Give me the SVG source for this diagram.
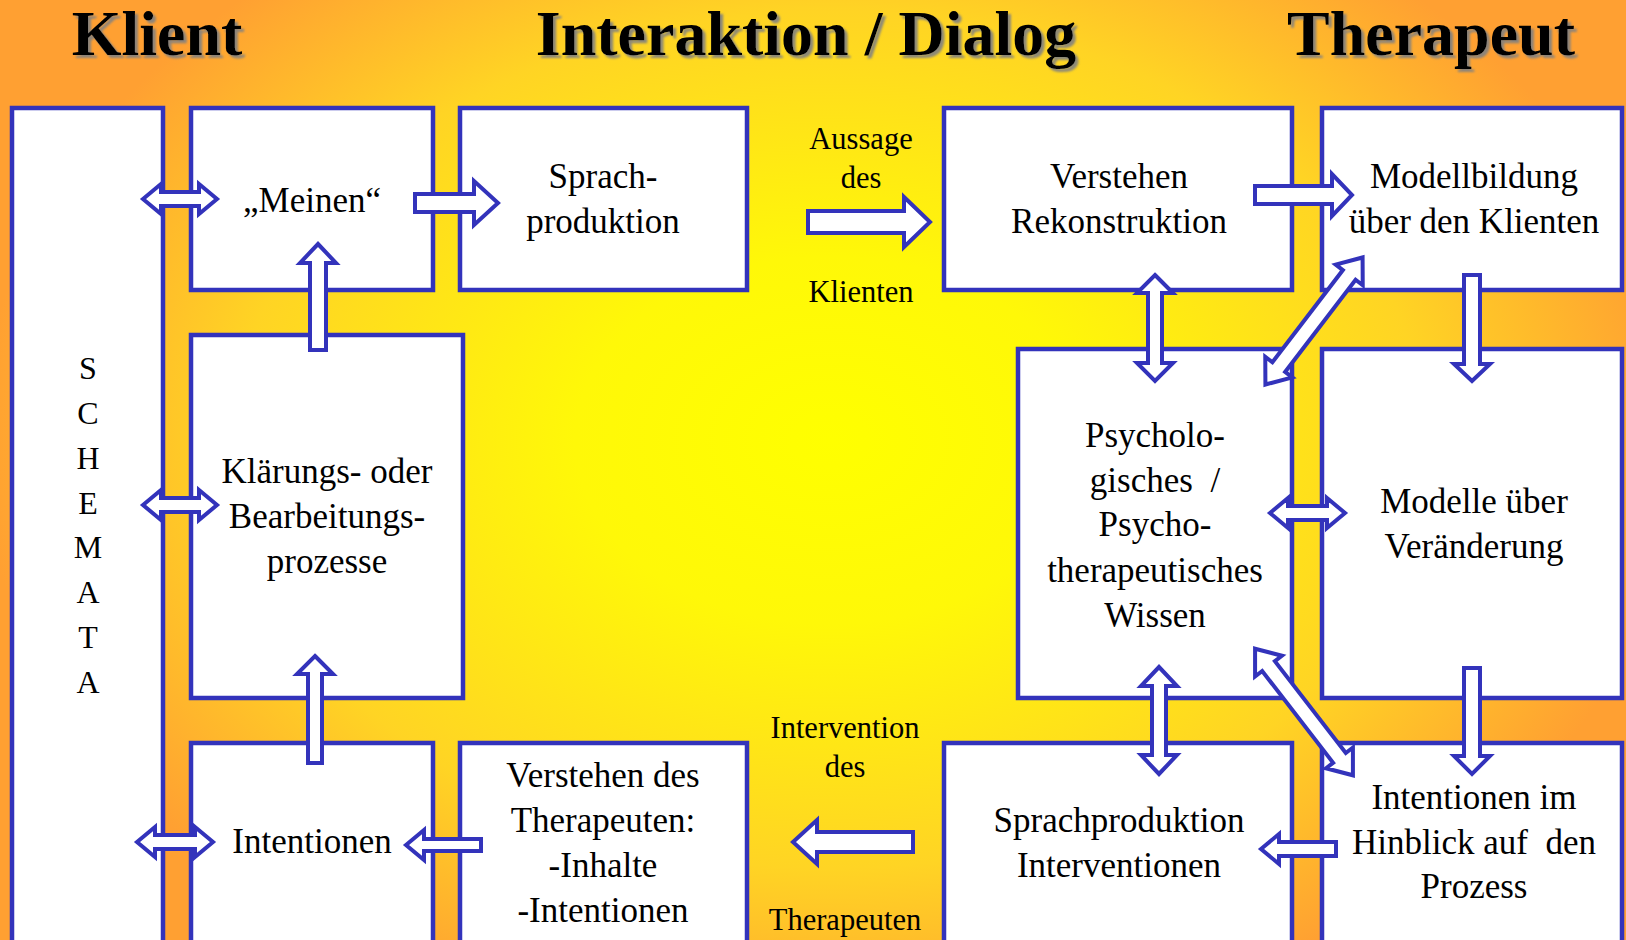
<svg xmlns="http://www.w3.org/2000/svg" width="1626" height="940" viewBox="0 0 1626 940">
<style>
.box{fill:#fff;stroke:#3333BB;stroke-width:4.5}
.arr{fill:#fff;stroke:#3333BB;stroke-width:4;stroke-linejoin:miter}
.t{font-family:"Liberation Serif","Times New Roman",serif;font-size:35px;fill:#000;text-anchor:middle}
.lab{font-family:"Liberation Serif","Times New Roman",serif;font-size:30.5px;fill:#000;text-anchor:middle}
.title{font-family:"Liberation Serif","Times New Roman",serif;font-size:64px;font-weight:bold;fill:#000;text-anchor:middle}
.sch{font-family:"Liberation Serif","Times New Roman",serif;font-size:32px;fill:#000;text-anchor:middle}
</style>
<defs>
<radialGradient id="bg" gradientUnits="userSpaceOnUse" cx="830" cy="440" r="850" gradientTransform="translate(830 440) scale(1 0.72) translate(-830 -440)">
<stop offset="0" stop-color="#FFFF00"/>
<stop offset="0.3" stop-color="#FFF808"/>
<stop offset="0.7" stop-color="#FFD424"/>
<stop offset="1" stop-color="#FFA032"/>
</radialGradient>
<filter id="sh" x="-10%" y="-20%" width="130%" height="150%">
<feDropShadow dx="3" dy="3" stdDeviation="1" flood-color="#808080" flood-opacity="0.9"/>
</filter>
</defs>
<rect x="0" y="0" width="1626" height="940" fill="url(#bg)"/>
<g id="titles" filter="url(#sh)">
<text class="title" x="157" y="55">Klient</text>
<text class="title" x="806" y="55">Interaktion / Dialog</text>
<text class="title" x="1431" y="55">Therapeut</text>
</g>
<g id="schemata">
<rect class="box" x="12" y="108" width="151" height="850"/>
<text class="sch" x="88" y="379">S</text>
<text class="sch" x="88" y="424">C</text>
<text class="sch" x="88" y="469">H</text>
<text class="sch" x="88" y="514">E</text>
<text class="sch" x="88" y="558">M</text>
<text class="sch" x="88" y="603">A</text>
<text class="sch" x="88" y="648">T</text>
<text class="sch" x="88" y="693">A</text>
</g>
<g id="meinen">
<rect class="box" x="191" y="108" width="242" height="182"/>
<text class="t" x="312" y="212">„Meinen“</text>
</g>
<g id="sprachproduktion-klient">
<rect class="box" x="460" y="108" width="287" height="182"/>
<text class="t" x="603" y="188">Sprach-</text>
<text class="t" x="603" y="233">produktion</text>
</g>
<g id="klaerung">
<rect class="box" x="191" y="335" width="272" height="363"/>
<text class="t" x="327" y="483">Klärungs- oder</text>
<text class="t" x="327" y="528">Bearbeitungs-</text>
<text class="t" x="327" y="573">prozesse</text>
</g>
<g id="intentionen-klient">
<rect class="box" x="191" y="743" width="242" height="215"/>
<text class="t" x="312" y="853">Intentionen</text>
</g>
<g id="verstehen-therapeut">
<rect class="box" x="460" y="743" width="287" height="215"/>
<text class="t" x="603" y="787">Verstehen des</text>
<text class="t" x="603" y="832">Therapeuten:</text>
<text class="t" x="603" y="877">-Inhalte</text>
<text class="t" x="603" y="922">-Intentionen</text>
</g>
<g id="verstehen-rekonstruktion">
<rect class="box" x="944" y="108" width="348" height="182"/>
<text class="t" x="1119" y="188">Verstehen</text>
<text class="t" x="1119" y="233">Rekonstruktion</text>
</g>
<g id="modellbildung">
<rect class="box" x="1322" y="108" width="300" height="182"/>
<text class="t" x="1474" y="188">Modellbildung</text>
<text class="t" x="1474" y="233">über den Klienten</text>
</g>
<g id="wissen">
<rect class="box" x="1018" y="349" width="274" height="349"/>
<text class="t" x="1155" y="447">Psycholo-</text>
<text class="t" x="1155" y="492" xml:space="preserve">gisches  /</text>
<text class="t" x="1155" y="536">Psycho-</text>
<text class="t" x="1155" y="582">therapeutisches</text>
<text class="t" x="1155" y="627">Wissen</text>
</g>
<g id="modelle-veraenderung">
<rect class="box" x="1322" y="349" width="300" height="349"/>
<text class="t" x="1474" y="513">Modelle über</text>
<text class="t" x="1474" y="558">Veränderung</text>
</g>
<g id="sprachproduktion-interventionen">
<rect class="box" x="944" y="743" width="348" height="215"/>
<text class="t" x="1119" y="832">Sprachproduktion</text>
<text class="t" x="1119" y="877">Interventionen</text>
</g>
<g id="intentionen-prozess">
<rect class="box" x="1322" y="743" width="300" height="215"/>
<text class="t" x="1474" y="809">Intentionen im</text>
<text class="t" x="1474" y="854" xml:space="preserve">Hinblick auf  den</text>
<text class="t" x="1474" y="898">Prozess</text>
</g>
<g id="labels">
<text class="lab" x="861" y="149">Aussage</text>
<text class="lab" x="861" y="188">des</text>
<text class="lab" x="861" y="302">Klienten</text>
<text class="lab" x="845" y="738">Intervention</text>
<text class="lab" x="845" y="777">des</text>
<text class="lab" x="845" y="930">Therapeuten</text>
</g>
<g id="connectors">
<polygon class="arr" points="143,199 161,184 161,192 199,192 199,184 217,199 199,214 199,206 161,206 161,214"/>
<polygon class="arr" points="143,505 161,490 161,498 199,498 199,490 217,505 199,520 199,512 161,512 161,520"/>
<polygon class="arr" points="137,842 155,827 155,835 195,835 195,827 213,842 195,857 195,849 155,849 155,857"/>
<polygon class="arr" points="415,194 474,194 474,181 498,203 474,225 474,212 415,212"/>
<polygon class="arr" points="318,244 336,263 326,263 326,350 310,350 310,263 300,263"/>
<polygon class="arr" points="315,656 333,674 322,674 322,763 308,763 308,674 297,674"/>
<polygon class="arr" points="406,845 424,830 424,839 481,839 481,851 424,851 424,860"/>
<polygon class="arr" points="808,211 904,211 904,197 930,222 904,247 904,233 808,233"/>
<polygon class="arr" points="793,842 817,820 817,832 913,832 913,852 817,852 817,864"/>
<polygon class="arr" points="1255,186 1332,186 1332,174 1352,195 1332,216 1332,204 1255,204"/>
<polygon class="arr" points="1155,275 1173,293 1162,293 1162,363 1173,363 1155,381 1137,363 1148,363 1148,293 1137,293"/>
<polygon class="arr" points="1464,275 1480,275 1480,364 1490,364 1472,381 1454,364 1464,364"/>
<polygon class="arr" points="1159,667 1177,686 1166,686 1166,755 1177,755 1159,774 1141,755 1152,755 1152,686 1141,686"/>
<polygon class="arr" points="1464,668 1480,668 1480,756 1490,756 1472,774 1454,756 1464,756"/>
<polygon class="arr" points="1270,513 1288,498 1288,506 1327,506 1327,498 1345,513 1327,528 1327,520 1288,520 1288,528"/>
<polygon class="arr" points="1261,849 1279,834 1279,842 1336,842 1336,856 1279,856 1279,864"/>
<polygon class="arr" transform="translate(1314,321) rotate(-52.6)" points="-80,0 -58,-17 -58,-8 58,-8 58,-17 80,0 58,17 58,8 -58,8 -58,17"/>
<polygon class="arr" transform="translate(1304,712) rotate(52.3)" points="-80,0 -58,-17 -58,-8 58,-8 58,-17 80,0 58,17 58,8 -58,8 -58,17"/>
</g>
</svg>
